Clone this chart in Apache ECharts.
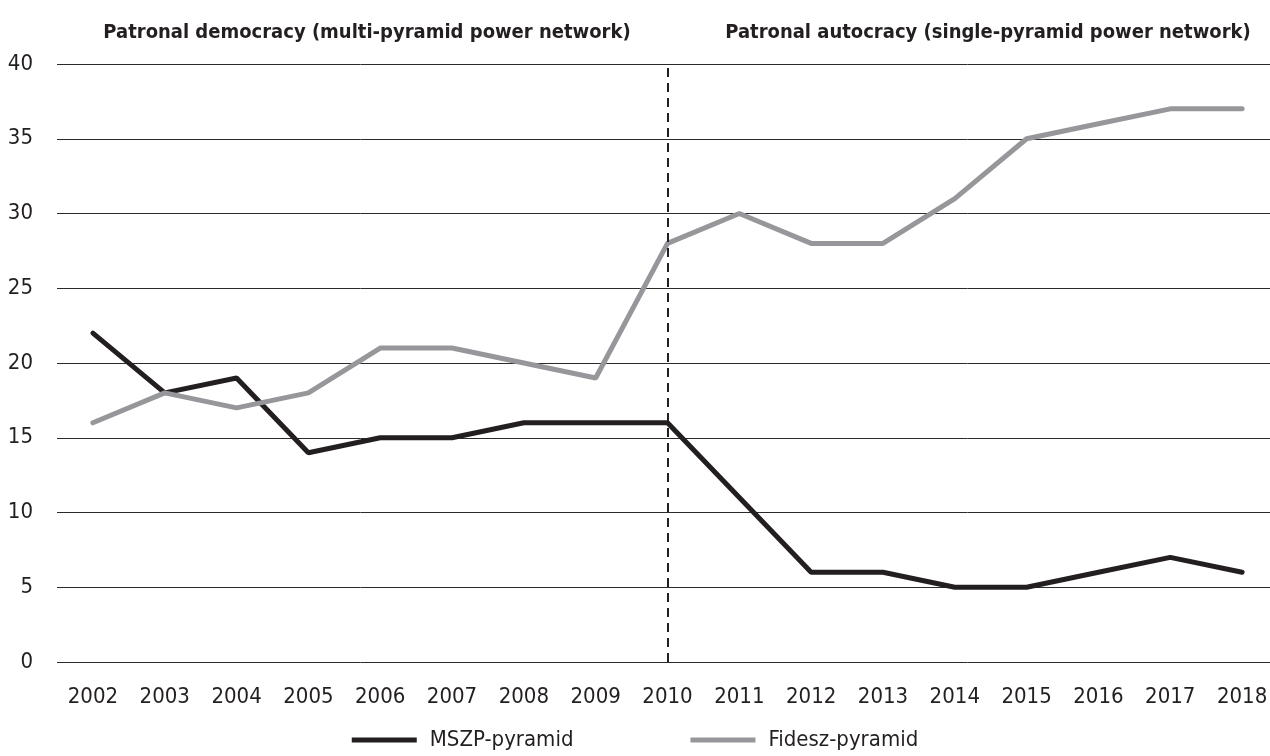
<!DOCTYPE html>
<html>
<head>
<meta charset="utf-8">
<script src="https://cdn.jsdelivr.net/npm/echarts@6/dist/echarts.min.js"></script>
<style>
  html, body { margin: 0; padding: 0; background: #fff; }
  #main { width: 1270px; height: 756px; }
</style>
</head>
<body>
<div id="main"></div>
<script>
  var years = ['2002', '2003', '2004', '2005', '2006', '2007', '2008', '2009', '2010',
               '2011', '2012', '2013', '2014', '2015', '2016', '2017', '2018'];
  var mszp = [22, 18, 19, 14, 15, 15, 16, 16, 16, 11, 6, 6, 5, 5, 6, 7, 6];
  var fidesz = [16, 18, 17, 18, 21, 21, 20, 19, 28, 30, 28, 28, 31, 35, 36, 37, 37];
  var periodTitles = ['Patronal democracy (multi-pyramid power network)',
                      'Patronal autocracy (single-pyramid power network)'];
  var splitYear = '2010';

  var font = '"Liberation Sans Narrow", "DejaVu Sans Condensed", sans-serif';
  var chart = echarts.init(document.getElementById('main'));

  chart.setOption({
    animation: false,
    title: [{
      text: periodTitles[0],
      left: 362, top: 18, textAlign: 'center',
      textStyle: { fontFamily: font, fontSize: 20, fontWeight: 'bold', color: '#231f20' }
    }, {
      text: periodTitles[1],
      left: 983, top: 18, textAlign: 'center',
      textStyle: { fontFamily: font, fontSize: 20, fontWeight: 'bold', color: '#231f20' }
    }],
    legend: {
      bottom: 0,
      left: 'center',
      icon: 'rect',
      itemWidth: 65,
      itemHeight: 5,
      itemGap: 117,
      textStyle: { fontFamily: font, fontSize: 22, color: '#231f20', padding: [0, 0, 0, 8] },
      data: ['MSZP-pyramid', 'Fidesz-pyramid']
    },
    // grid runs past the right edge so 2018 sits where it does in the original
    grid: { left: 57, width: 1221, top: 64, bottom: 94, containLabel: false, outerBoundsMode: 'none' },
    xAxis: {
      type: 'category',
      data: years,
      boundaryGap: true,
      axisLine: { show: false },
      axisTick: { show: false },
      axisLabel: { fontFamily: font, fontSize: 22, color: '#231f20', margin: 24, interval: 0 }
    },
    yAxis: {
      type: 'value',
      min: 0, max: 40, interval: 5,
      axisLine: { show: false },
      axisTick: { show: false },
      axisLabel: { fontFamily: font, fontSize: 22, color: '#231f20', margin: 24 },
      splitLine: { lineStyle: { color: '#2b2b2b', width: 1 } }
    },
    series: [{
      name: 'MSZP-pyramid',
      type: 'line',
      data: mszp,
      symbol: 'none',
      color: '#231f20',
      lineStyle: { width: 5, color: '#231f20', cap: 'round' },
      markLine: {
        silent: true,
        symbol: 'none',
        label: { show: false },
        lineStyle: { color: '#231f20', width: 2, type: [9, 6] },
        data: [{ xAxis: splitYear }]
      }
    }, {
      name: 'Fidesz-pyramid',
      type: 'line',
      data: fidesz,
      symbol: 'none',
      color: '#97969a',
      lineStyle: { width: 5, color: '#97969a', cap: 'round' }
    }]
  });
</script>
</body>
</html>
